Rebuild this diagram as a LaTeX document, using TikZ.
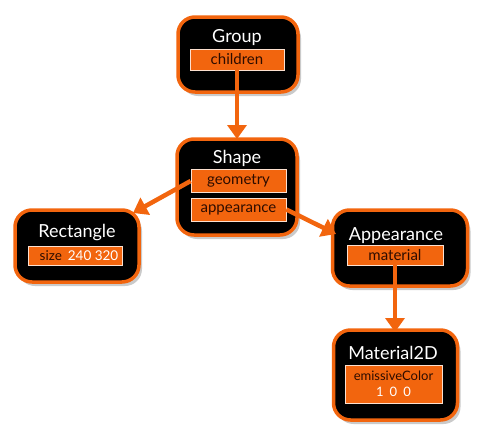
\documentclass[tikz,border=0pt]{standalone}
\usepackage{fontspec}
\setmainfont{Lato}
\usetikzlibrary{shadows,arrows.meta}
\definecolor{org}{RGB}{242,101,14}
\definecolor{fldtxt}{RGB}{45,12,0}
\tikzset{
  box/.style={draw=org, line width=3.5pt, fill=black, rounded corners=17pt,
    drop shadow={shadow xshift=3pt, shadow yshift=-4pt, opacity=0.35, fill=black!60}},
  ttl/.style={text=white, font=\fontsize{18}{20}\selectfont, inner sep=0pt},
  fld/.style={draw=white!80!org, line width=0.7pt, fill=org, text=fldtxt,
    font=\fontsize{15}{16}\selectfont, inner sep=0pt, align=center},
  conn/.style={draw=org, line width=4.5pt, -{Triangle[width=19pt,length=14pt]}}
}
\begin{document}
\begin{tikzpicture}[x=1pt,y=-1pt]
\useasboundingbox (0,0) rectangle (477,439);
% boxes
\node[box, minimum width=120pt, minimum height=75pt] (group) at (238,54.5) {};
\node[box, minimum width=120pt, minimum height=96pt] (shape) at (237,187) {};
\node[box, minimum width=124pt, minimum height=72pt] (rect) at (77,246) {};
\node[box, minimum width=135pt, minimum height=76pt] (app) at (400,248) {};
\node[box, minimum width=124pt, minimum height=90pt] (mat) at (395.5,375) {};
% titles
\node[ttl] (tgroup) at (237,38) {Group};
\node[ttl] (tshape) at (237,158) {Shape};
\node[ttl] (trect) at (77,233) {Rectangle};
\node[ttl] (tapp) at (396,236) {Appearance};
\node[ttl] (tmat) at (393,353) {Material2D};
% fields
\node[fld, minimum width=94pt, minimum height=21pt] (children) at (237,59.5) {children};
\node[fld, minimum width=95pt, minimum height=23pt] (geom) at (238.5,181) {geometry};
\node[fld, minimum width=95pt, minimum height=23pt] (appf) at (238.5,209.5) {appearance};
\node[fld, minimum width=94pt, minimum height=19pt, font=\fontsize{13.5}{15}\selectfont] (size) at (75,255.5) {\hspace*{10pt}size\hspace{6pt}\textcolor{white}{240 320}\hspace*{2pt}};
\node[fld, minimum width=96pt, minimum height=20pt] (matf) at (395,255) {material};
\node[fld, minimum width=97pt, minimum height=38pt, font=\fontsize{13}{15}\selectfont] (emis) at (393.5,384) {emissiveColor\\[1pt]\textcolor{white}{1\hspace{6pt}0\hspace{6pt}0}};
% connectors
\coordinate (c1) at (237,139);
\coordinate (c2) at (133,213);
\coordinate (c3) at (336,234);
\coordinate (c4) at (395,332);
\draw[conn] (children.south) -- (c1);
\draw[conn] (geom.west) -- (c2);
\draw[conn] (appf.east) -- (c3);
\draw[conn] (matf.south) -- (c4);
\end{tikzpicture}
\end{document}
